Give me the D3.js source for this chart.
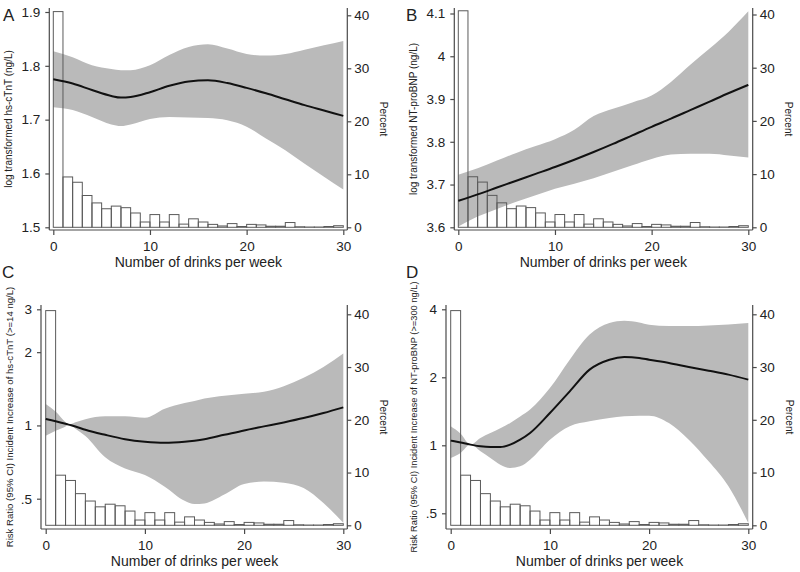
<!DOCTYPE html>
<html><head><meta charset="utf-8">
<script src="https://cdn.jsdelivr.net/npm/d3@7"></script>
<style>body{margin:0;background:#fff}svg{display:block}text{font-family:"Liberation Sans",Arial,sans-serif;fill:#222}</style>
</head><body><svg id="c" width="800" height="572"></svg>
<script>
// ---------- data ----------
const xTicks = [0, 10, 20, 30];
const pctTicks = [0, 10, 20, 30, 40];
const histStart = d3.range(0, 30);           // bins [i, i+1)
const histPct = [40.7, 9.5, 8.5, 6.0, 4.6, 3.5, 4.0, 3.7, 2.7, 1.0, 2.4, 1.0, 2.4, 0.6, 1.6, 1.0, 0.55, 0.25, 0.7, 0.15, 0.55, 0.45, 0.2, 0.2, 0.9, 0.1, 0.05, 0.05, 0.15, 0.3];

const xA = [0, 2, 4, 6, 7, 8, 10, 12, 14, 16, 18, 20, 22, 24, 26, 28, 30];
const fitA = [1.775, 1.767, 1.755, 1.744, 1.741, 1.742, 1.751, 1.763, 1.771, 1.773, 1.768, 1.759, 1.749, 1.738, 1.727, 1.717, 1.707];
const upA = [1.827, 1.816, 1.801, 1.794, 1.792, 1.792, 1.801, 1.820, 1.835, 1.840, 1.832, 1.822, 1.819, 1.822, 1.830, 1.838, 1.846];
const loA = [1.723, 1.718, 1.705, 1.691, 1.688, 1.691, 1.701, 1.705, 1.704, 1.703, 1.699, 1.687, 1.665, 1.643, 1.618, 1.594, 1.570];
const ticksA = [1.5, 1.6, 1.7, 1.8, 1.9];

const xB = [0, 2, 4, 6, 8, 10, 12, 14, 16, 18, 20, 22, 24, 26, 28, 30];
const fitB = [3.662, 3.677, 3.693, 3.709, 3.725, 3.741, 3.758, 3.776, 3.795, 3.815, 3.835, 3.854, 3.874, 3.894, 3.914, 3.933];
const upB = [3.723, 3.738, 3.756, 3.774, 3.790, 3.806, 3.828, 3.860, 3.877, 3.892, 3.908, 3.940, 3.980, 4.018, 4.058, 4.105];
const loB = [3.602, 3.625, 3.643, 3.660, 3.675, 3.690, 3.702, 3.715, 3.730, 3.745, 3.760, 3.770, 3.772, 3.772, 3.768, 3.763];
const ticksB = [3.6, 3.7, 3.8, 3.9, 4.0, 4.1];

const xC = [0, 1, 2, 2.3, 3, 4, 6, 8, 10, 12, 14, 15, 16, 18, 20, 22, 24, 26, 28, 30];
const fitC = [1.062, 1.040, 1.016, 1.008, 0.990, 0.960, 0.915, 0.878, 0.857, 0.848, 0.857, 0.866, 0.878, 0.915, 0.954, 0.991, 1.029, 1.072, 1.124, 1.186];
const upC = [1.225, 1.14, 1.03, 1.008, 1.03, 1.06, 1.09, 1.09, 1.075, 1.17, 1.235, 1.26, 1.29, 1.325, 1.35, 1.375, 1.45, 1.57, 1.74, 1.975];
const loC = [0.906, 0.95, 0.99, 1.008, 0.97, 0.905, 0.74, 0.665, 0.625, 0.56, 0.49, 0.475, 0.478, 0.52, 0.575, 0.588, 0.582, 0.553, 0.48, 0.398];
const ticksC = [0.5, 1, 2, 3];

const xD = [0, 1, 2, 3, 4, 5, 6, 7, 8, 10, 12, 14, 16, 17.5, 19, 20, 22, 24, 26, 28, 30];
const fitD = [1.049, 1.028, 1.007, 0.990, 0.983, 0.983, 1.007, 1.059, 1.134, 1.39, 1.734, 2.163, 2.393, 2.459, 2.435, 2.393, 2.315, 2.221, 2.139, 2.055, 1.953];
const upD = [1.214, 1.126, 1.007, 1.078, 1.134, 1.19, 1.256, 1.34, 1.439, 1.793, 2.393, 3.091, 3.475, 3.56, 3.50, 3.42, 3.37, 3.37, 3.39, 3.43, 3.475];
const loD = [0.879, 0.925, 1.007, 0.941, 0.879, 0.821, 0.794, 0.807, 0.864, 1.059, 1.214, 1.277, 1.321, 1.345, 1.353, 1.353, 1.255, 1.059, 0.849, 0.659, 0.453];
const ticksD = [0.5, 1, 2, 4];

const xTitle = "Number of drinks per week";
const pctTitle = "Percent";

// ---------- layout ----------
const fmtNum = v => { let s = String(+v.toFixed(2)); return s.startsWith("0.") ? s.slice(1) : s; };
const panels = [
  {id:"A", x:xA, fit:fitA, up:upA, lo:loA, ticks:ticksA, log:false, ytitle:"log transformed hs-cTnT (ng/L)",
   L:49.3, R:347.3, T:8, B:230, x0:53.3, x1:343.3, yd:[1.5,1.9], yr:[227.3,12], pr:[227.3,15.3],
   lab:[3,21], ytx:12, pctx:380, yfs:10},
  {id:"B", x:xB, fit:fitB, up:upB, lo:loB, ticks:ticksB, log:false, ytitle:"log transformed NT-proBNP (ng/L)",
   L:454.3, R:752.7, T:8, B:230, x0:458.3, x1:748.3, yd:[3.6,4.1], yr:[227.3,13.5], pr:[227.3,14.5],
   lab:[406,21], ytx:417, pctx:785, yfs:10},
  {id:"C", x:xC, fit:fitC, up:upC, lo:loC, ticks:ticksC, log:true, ytitle:"Risk Ratio (95% CI) Incident Increase of hs-cTnT (>=14 ng/L)",
   L:41, R:347.3, T:305, B:529, x0:45.7, x1:343.3, yd:[0.5,3], yr:[498.7,309.3], pr:[525.3,314.3],
   lab:[2,278], ytx:13, pctx:380, yfs:9.6},
  {id:"D", x:xD, fit:fitD, up:upD, lo:loD, ticks:ticksD, log:true, ytitle:"Risk Ratio (95% CI) Incident Increase of NT-proBNP (>=300 ng/L)",
   L:446, R:752.7, T:305, B:529, x0:450.7, x1:748.3, yd:[0.5,4], yr:[513.3,309.3], pr:[525.3,314.3],
   lab:[406,278], ytx:417, pctx:786, yfs:9.3}
];

const svg = d3.select("#c");
const axisCol = "#4a4a4a";

panels.forEach(p => {
  const g = svg.append("g");
  const x = d3.scaleLinear().domain([0, 30]).range([p.x0, p.x1]);
  const y = (p.log ? d3.scaleLog() : d3.scaleLinear()).domain(p.yd).range(p.yr);
  const yp = d3.scaleLinear().domain([0, 40]).range(p.pr);

  const pts = p.x.map((v, i) => ({x: v, f: p.fit[i], u: p.up[i], l: p.lo[i]}));
  // band
  g.append("path").datum(pts)
    .attr("d", d3.area().x(d => x(d.x)).y0(d => y(d.l)).y1(d => y(d.u)).curve(d3.curveMonotoneX))
    .attr("fill", "#bababa").attr("stroke", "none");
  // histogram (hollow bars)
  g.selectAll("rect.h").data(histStart).join("rect").attr("class", "h")
    .attr("x", d => x(d)).attr("width", d => x(d + 1) - x(d))
    .attr("y", (d, i) => yp(histPct[i])).attr("height", (d, i) => yp(0) - yp(histPct[i]))
    .attr("fill", "none").attr("stroke", "#5a5a5a").attr("stroke-width", 1);
  // fit line
  g.append("path").datum(pts)
    .attr("d", d3.line().x(d => x(d.x)).y(d => y(d.f)).curve(d3.curveMonotoneX))
    .attr("fill", "none").attr("stroke", "#111").attr("stroke-width", 2);

  // axes lines
  const ax = g.append("g").attr("stroke", axisCol).attr("stroke-width", 1.2);
  ax.append("line").attr("x1", p.L).attr("x2", p.L).attr("y1", p.T).attr("y2", p.B);
  ax.append("line").attr("x1", p.R).attr("x2", p.R).attr("y1", p.T).attr("y2", p.B);
  ax.append("line").attr("x1", p.L).attr("x2", p.R).attr("y1", p.B).attr("y2", p.B);

  // bottom axis
  const bx = g.append("g").attr("transform", `translate(0,${p.B})`)
    .call(d3.axisBottom(x).tickValues(xTicks).tickSize(5).tickPadding(6).tickFormat(d3.format("d")));
  bx.select(".domain").remove();
  bx.selectAll("line").attr("stroke", axisCol).attr("stroke-width", 1.2);
  bx.selectAll("text").attr("font-size", 13.5).attr("fill", "#222").attr("font-family", "Liberation Sans, Arial, sans-serif");

  // left axis
  const lx = g.append("g").attr("transform", `translate(${p.L},0)`)
    .call(d3.axisLeft(y).tickValues(p.ticks).tickSize(4).tickPadding(5).tickFormat(fmtNum));
  lx.select(".domain").remove();
  lx.selectAll("line").attr("stroke", axisCol).attr("stroke-width", 1.2);
  lx.selectAll("text").attr("font-size", 13.5).attr("fill", "#222").attr("font-family", "Liberation Sans, Arial, sans-serif");

  // right axis
  const rx = g.append("g").attr("transform", `translate(${p.R},0)`)
    .call(d3.axisRight(yp).tickValues(pctTicks).tickSize(4).tickPadding(3).tickFormat(d3.format("d")));
  rx.select(".domain").remove();
  rx.selectAll("line").attr("stroke", axisCol).attr("stroke-width", 1.2);
  rx.selectAll("text").attr("font-size", 13.5).attr("fill", "#222").attr("font-family", "Liberation Sans, Arial, sans-serif");

  // titles
  const cy = (p.T + p.B) / 2;
  g.append("text").attr("x", (p.x0 + p.x1) / 2).attr("y", p.B + 37).attr("text-anchor", "middle")
    .attr("font-size", 14).text(xTitle);
  g.append("text").attr("transform", `translate(${p.ytx},${cy}) rotate(-90)`).attr("text-anchor", "middle")
    .attr("font-size", p.yfs).text(p.ytitle);
  g.append("text").attr("transform", `translate(${p.pctx},${cy}) rotate(90)`).attr("text-anchor", "middle")
    .attr("font-size", 10).text(pctTitle);
  g.append("text").attr("x", p.lab[0]).attr("y", p.lab[1]).attr("font-size", 17).text(p.id);
});
</script></body></html>
